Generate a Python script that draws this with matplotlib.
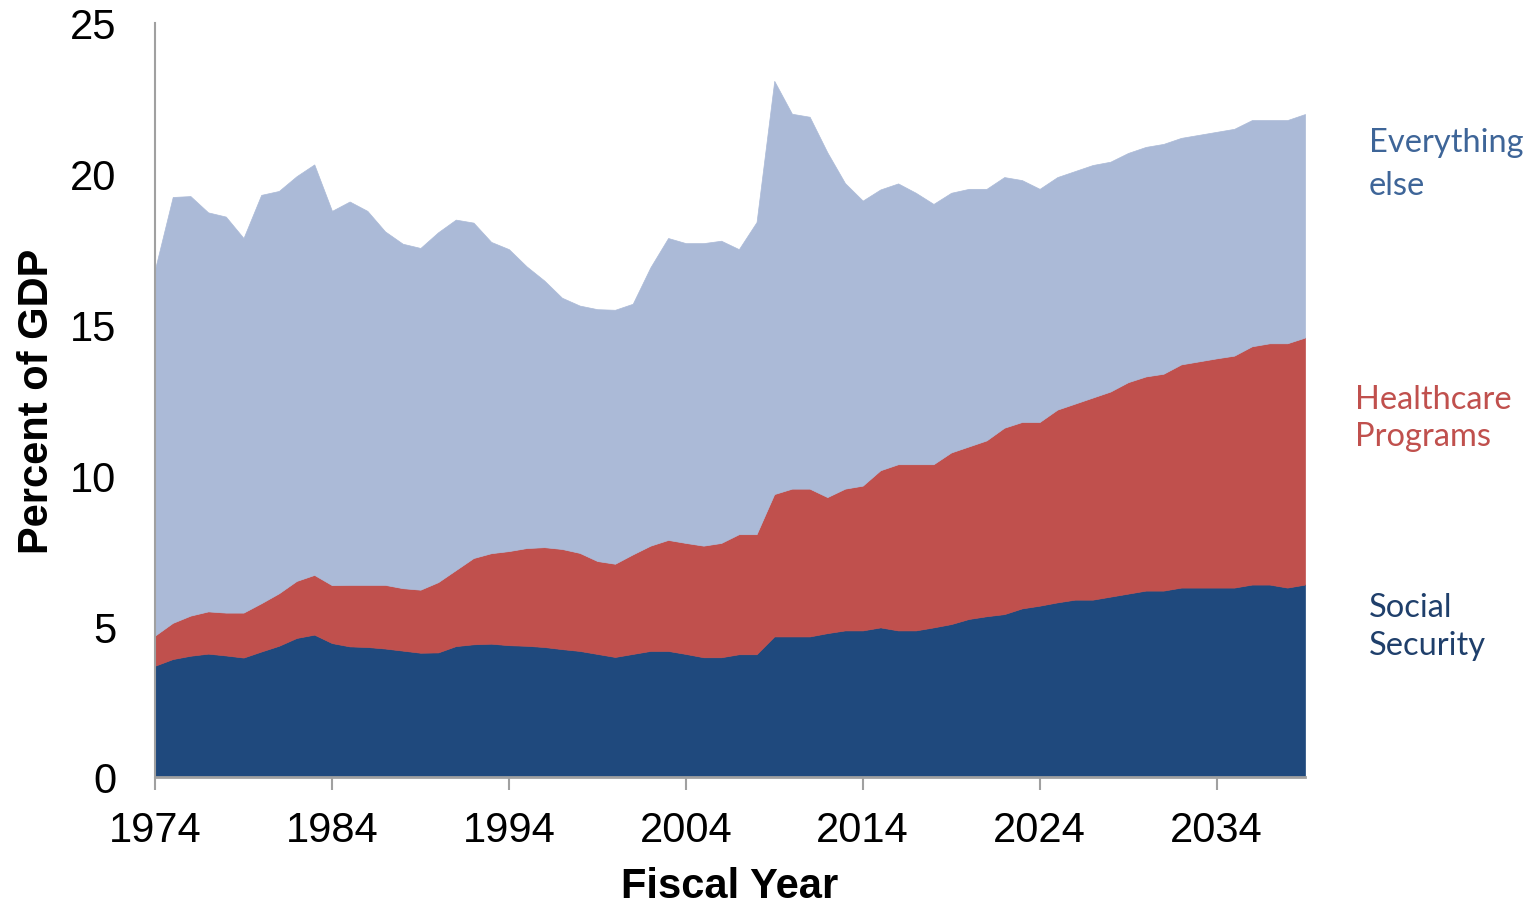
import numpy as np
import matplotlib.pyplot as plt

# Federal spending by category, percent of GDP
years = np.arange(1974, 2040)

social_security = [
    3.69, 3.91, 4.02, 4.09, 4.03, 3.96, 4.16, 4.35, 4.61, 4.72,
    4.44, 4.33, 4.31, 4.26, 4.19, 4.12, 4.13, 4.34, 4.40, 4.42,
    4.37, 4.35, 4.31, 4.24, 4.18, 4.08, 3.98, 4.08, 4.18, 4.18,
    4.08, 3.97, 3.97, 4.07, 4.07, 4.66, 4.66, 4.66, 4.77, 4.86,
    4.86, 4.96, 4.86, 4.86, 4.96, 5.07, 5.24, 5.33, 5.40, 5.59,
    5.68, 5.79, 5.88, 5.88, 5.98, 6.08, 6.18, 6.18, 6.28, 6.28,
    6.28, 6.28, 6.38, 6.38, 6.28, 6.38,
]

healthcare = [
    1.00, 1.20, 1.33, 1.40, 1.42, 1.49, 1.60, 1.74, 1.89, 1.98,
    1.92, 2.04, 2.06, 2.11, 2.07, 2.09, 2.33, 2.52, 2.86, 3.00,
    3.12, 3.24, 3.31, 3.32, 3.25, 3.08, 3.09, 3.30, 3.49, 3.68,
    3.68, 3.70, 3.79, 3.98, 3.98, 4.72, 4.90, 4.90, 4.51, 4.70,
    4.80, 5.21, 5.51, 5.51, 5.41, 5.69, 5.72, 5.83, 6.18, 6.18,
    6.09, 6.39, 6.50, 6.70, 6.80, 7.01, 7.10, 7.19, 7.40, 7.50,
    7.60, 7.69, 7.90, 8.00, 8.10, 8.19,
]

everything_else = [
    12.15, 14.12, 13.91, 13.23, 13.13, 12.42, 13.54, 13.34, 13.42, 13.61,
    12.41, 12.71, 12.40, 11.72, 11.42, 11.33, 11.60, 11.62, 11.12, 10.32,
    10.01, 9.34, 8.84, 8.33, 8.20, 8.35, 8.42, 8.31, 9.23, 10.01,
    9.94, 10.03, 10.02, 9.45, 10.35, 13.70, 12.43, 12.33, 11.43, 10.13,
    9.45, 9.31, 9.31, 9.00, 8.63, 8.61, 8.54, 8.34, 8.31, 8.02,
    7.73, 7.71, 7.71, 7.71, 7.62, 7.60, 7.61, 7.62, 7.51, 7.51,
    7.51, 7.52, 7.50, 7.40, 7.40, 7.41,
]

fill_colors = ['#1F497D', '#C0504D', '#ABBAD7']
label_colors = ['#1F3F6B', '#C0504D', '#3E6598']

fig = plt.figure(figsize=(15.29, 9.04), dpi=100)
ax = fig.add_axes([0.1014, 0.1394, 0.7521, 0.8341])

ax.stackplot(years, social_security, healthcare, everything_else,
             colors=fill_colors, edgecolor='face', linewidth=0.5)

ax.set_xlim(1974, 2039)
ax.set_ylim(0, 25)
ax.set_xticks(np.arange(1974, 2039, 10))
ax.set_yticks(np.arange(0, 26, 5))

for side in ['top', 'right']:
    ax.spines[side].set_visible(False)
ax.spines['left'].set_color('#A0A0A0')
ax.spines['left'].set_linewidth(1.5)
ax.spines['bottom'].set_color('#A0A0A0')
ax.spines['bottom'].set_linewidth(2)

ax.tick_params(axis='x', direction='out', length=9, width=1.5, color='#A0A0A0',
               labelsize=30, pad=15)
ax.tick_params(axis='y', length=0, labelsize=30, pad=28)
for lab in ax.get_xticklabels() + ax.get_yticklabels():
    lab.set_family(['Liberation Sans', 'DejaVu Sans'])

ax.set_xlabel('Fiscal Year', fontsize=30, fontweight='bold',
              family=['Liberation Sans', 'DejaVu Sans'], labelpad=11)
ax.set_ylabel('Percent of GDP', fontsize=30, fontweight='bold',
              family=['Liberation Sans', 'DejaVu Sans'], labelpad=9)

# Series labels on the right, one text per line placed at its baseline
W, H = 1529, 904
label_font = ['Lato', 'DejaVu Sans']
right_labels = [
    ('Everything', 1369, 152, label_colors[2]),
    ('else', 1369, 195, label_colors[2]),
    ('Healthcare', 1355, 409, label_colors[1]),
    ('Programs', 1355, 446, label_colors[1]),
    ('Social', 1369, 617, label_colors[0]),
    ('Security', 1369, 655, label_colors[0]),
]
for txt, px, py, col in right_labels:
    fig.text(px / W, 1 - py / H, txt, color=col, fontsize=23.5,
             family=label_font, ha='left', va='baseline')

fig.savefig('out.png', dpi=100)
